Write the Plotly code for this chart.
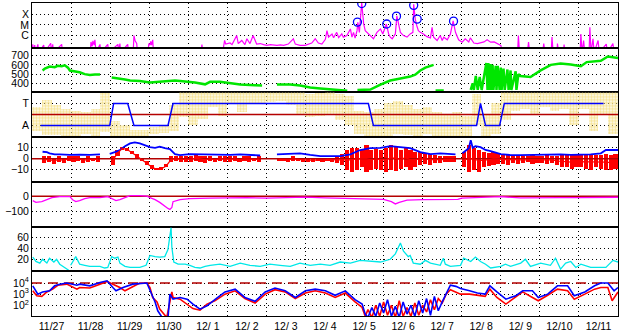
import pandas as pd
import plotly.graph_objects as go
from plotly.subplots import make_subplots

# ---------------- data (time = days since 11/27 00:00) ----------------
START = pd.Timestamp("2023-11-27")
N_DAYS = 15
day_labels = ["11/27", "11/28", "11/29", "11/30", "12/ 1", "12/ 2", "12/ 3", "12/ 4",
              "12/ 5", "12/ 6", "12/ 7", "12/ 8", "12/ 9", "12/10", "12/11"]

# GOES X-ray flux, log10(W/m2)
xray_day = [0.0, 0.02, 0.04, 0.07, 0.09, 0.15, 0.17, 0.30, 0.32, 0.48, 0.50, 0.53, 0.55, 0.76, 0.78,
            1.49, 1.51, 1.54, 1.56, 1.59, 1.61, 1.64, 1.74, 1.76, 1.94, 1.96, 2.20, 2.22, 2.25, 2.27,
            2.45, 2.47, 2.59, 2.61, 2.64, 2.68, 2.70, 2.97, 2.99, 3.02, 3.04, 3.06, 3.09, 3.11,
            4.33, 4.35, 4.37, 4.88, 4.90, 4.93, 4.96, 5.07, 5.12, 5.24, 5.28, 5.37, 5.45, 5.50, 5.58,
            5.63, 5.66, 5.75, 5.84, 5.93, 6.01, 6.10, 6.27, 6.36, 6.44, 6.56, 6.69, 6.74, 6.86, 6.99,
            7.07, 7.16, 7.25, 7.33, 7.42, 7.51, 7.55, 7.59, 7.68, 7.72, 7.80, 7.85, 7.93, 7.97, 8.06,
            8.15, 8.19, 8.23, 8.27, 8.32, 8.34, 8.38, 8.44, 8.49, 8.53, 8.62, 8.70, 8.74, 8.83, 8.92,
            8.98, 9.04, 9.07, 9.13, 9.17, 9.22, 9.30, 9.34, 9.38, 9.43, 9.51, 9.60, 9.68, 9.75, 9.77,
            9.81, 9.85, 9.89, 9.94, 10.02, 10.11, 10.20, 10.24, 10.28, 10.37, 10.45, 10.50, 10.54,
            10.63, 10.71, 10.78, 10.84, 10.92, 11.01, 11.09, 11.18, 11.22, 11.31, 11.40, 11.57, 11.65,
            11.74, 11.83, 11.91, 12.0, 12.05, 12.43, 12.45, 12.48, 12.68, 12.71, 12.74, 13.07, 13.10,
            13.13, 13.29, 13.31, 13.34, 13.44, 13.45, 13.48, 13.60, 13.62, 13.64, 14.03, 14.05, 14.08,
            14.12, 14.15, 14.26, 14.28, 14.31, 14.36, 14.39, 14.49, 14.52, 14.70, 14.73, 14.87, 14.90,
            15.0]
xray_log = [-7.6, -6.83, -7.6, -6.9, -7.6, -6.83, -7.6, -6.9, -7.6, -6.72, -7.6, -6.83, -7.6, -6.83, -7.6,
            -7.6, -6.6, -7.0, -6.5, -6.9, -6.4, -7.6, -6.83, -7.6, -6.83, -7.6, -6.83, -7.6, -6.75, -7.6,
            -6.83, -7.6, -7.6, -6.0, -6.5, -6.75, -7.6, -7.6, -6.75, -6.9, -6.55, -6.9, -6.4, -7.6,
            -7.6, -6.85, -7.6, -7.6, -6.92, -6.46, -6.8, -6.7, -6.85, -6.0, -6.75, -6.46, -6.85, -6.3, -6.75,
            -6.15, -6.0, -6.8, -6.75, -6.85, -6.92, -6.85, -6.92, -6.88, -6.92, -6.8, -6.3, -6.8, -6.92, -6.92,
            -6.8, -6.7, -6.3, -6.7, -6.8, -6.35, -5.54, -6.15, -5.85, -6.2, -5.7, -6.2, -5.85, -6.15, -6.0,
            -5.38, -6.15, -5.7, -6.25, -5.54, -4.77, -5.7, -2.93, -4.92, -5.54, -5.85, -6.15, -6.3, -5.7, -5.38,
            -5.85, -5.08, -4.92, -5.85, -6.15, -6.3, -5.85, -4.16, -4.92, -5.7, -6.0, -6.15, -5.85, -5.7, -3.08,
            -4.46, -5.08, -5.54, -5.7, -5.85, -6.1, -6.22, -5.23, -6.15, -6.46, -6.0, -6.46, -6.15,
            -6.4, -5.85, -4.62, -5.7, -6.4, -6.62, -6.3, -6.6, -6.22, -6.7, -6.75, -6.6, -6.4,
            -6.62, -6.6, -6.75, -6.92, -7.6, -7.6, -6.0, -7.6, -7.6, -6.62, -7.6, -7.6, -6.75,
            -7.6, -7.6, -6.15, -7.6, -7.6, -6.75, -7.6, -7.6, -6.85, -7.6, -7.6, -5.85, -7.6,
            -6.46, -7.6, -7.6, -5.23, -7.6, -6.3, -7.6, -6.46, -7.6, -6.8, -7.6, -6.75, -7.6,
            -7.6]
flare_day = [8.33, 8.44, 9.08, 9.33, 9.77, 9.86, 10.79]
flare_log = [-4.74, -3.0, -4.92, -4.18, -3.17, -4.46, -4.65]
xray_ticks = [1e-6, 1e-5, 1e-4]
xray_ticktext = ["C", "M", "X"]

# Solar wind speed (km/s)
sw_day = [0.27, 0.33, 0.45, 0.58, 0.66, 0.76, 0.84, 0.92, 0.97, 1.09, 1.22, 1.35, 1.48, 1.61, 1.74, 1.85,
          2.04, 2.25, 2.38, 2.51, 2.76, 3.02, 3.27, 3.66, 3.92, 4.17, 4.43, 4.56, 4.81, 5.07, 5.33, 5.71,
          5.89, 6.0, 6.27, 6.61, 6.86, 7.12, 7.38, 7.63, 7.89, 8.07, 8.2, 8.33, 8.66, 8.92, 9.17, 9.43,
          9.68, 9.81, 9.94, 10.07, 10.20, 10.28, 10.30, 10.33, 10.54, 10.6,
          11.23, 11.28, 11.31, 11.36, 11.41, 11.46, 11.51, 11.63, 11.66, 11.68, 11.71, 11.74, 11.76,
          11.79, 11.81, 11.87, 11.89, 11.92, 11.97, 12.0, 12.02, 12.07, 12.10, 12.17, 12.20, 12.25,
          12.27, 12.38, 12.40, 12.45, 12.5, 12.76, 13.02, 13.28, 13.53, 13.79, 14.05, 14.2, 14.56,
          14.74, 15.0]
sw_speed = [539, 560, 582, 575, 590, 585, 595, 570, 539, 530, 520, 500, 490, 497, 495, None,
            463, 453, 442, 431, 425, 410, 420, 431, 420, 410, 390, 418, 418, 400, 388, 380,
            377, None, 388, 388, 377, 356, 345, 334, 324, 320, None, 330, 334, 388, 431, 453,
            474, 495, 539, 571, 592, 600, None, 325, 325, None,
            330, 400, 330, 480, 330, 470, 330, 620, 330, 620, 330, 610, 330,
            600, 330, 590, 330, 590, 330, 570, 330, 560, 330, 550, 330, 540,
            330, 530, 330, 500, 480, 470, 540, 600, 615, 605, 585, 630, 645,
            690, 675]
sw_ticks = [400, 500, 600, 700]

# IMF sector polarity: +1 = T (toward), -1 = A (away)
sector_day = [0.22, 1.99, 2.09, 2.45, 2.61, 3.48, 3.61, 8.61, 8.74, 11.38, 11.48, 11.61, 11.97, 12.09, 14.63]
sector_val = [-1, -1, 1, 1, -1, -1, 1, 1, -1, -1, 1, -1, -1, 1, 1]
# IMF longitude scatter, 6-hour bins: low / high (same scale as sector)
phi_lo = [-1.5, -1.9, -1.9, -2.0, -2.0, -1.8, -2.0, -1.6, -2.0, -2.0, -2.0, -2.0,
          -1.8, -1.7, -1.5, -0.3, -1.0, -0.4, 0.6, -0.2, 0.9, 0.2, 1.0, 0.9,
          1.1, 1.2, 0.8, 0.0, -0.3, -0.2, 0.0, -0.5, -1.0, -1.8, -2.0, -2.0,
          -2.0, -1.8, -1.9, -2.0, -1.8, -2.0, -2.0, -2.0, -2.0, -1.0, -2.0, -1.8,
          -0.5, 0.3, 0.5, 0.0, 0.6, 0.3, 0.5, -1.0, 0.5, -1.5, 0.0, -1.8]
phi_hi = [0.6, 1.3, 0.8, 0.5, 0.3, 0.2, 0.5, 1.9, -0.6, -1.0, -1.4, -1.4,
          -1.2, -1.1, 0.8, 2.0, 2.0, 2.0, 2.0, 2.0, 2.0, 2.0, 2.0, 2.0,
          2.0, 2.0, 2.0, 2.0, 1.8, 1.9, 2.0, 1.8, 1.6, 0.3, 0.2, 0.5,
          1.0, 1.2, 0.8, 0.5, 0.6, 0.2, 0.0, 0.2, -0.2, 1.8, 0.0, 1.0,
          2.0, 2.0, 2.0, 2.0, 2.0, 2.0, 2.0, 2.0, 2.0, 2.0, 2.0, 2.0]
sector_ticks = [-1, 1]
sector_ticktext = ["A", "T"]

# IMF Bt (nT)
bt_day = [0.27, 0.38, 0.45, 0.58, 0.71, 0.97, 1.22, 1.48, 1.74, 1.85, 1.99, 2.04, 2.12, 2.25, 2.38, 2.51,
          2.63, 2.76, 2.89, 3.02, 3.15, 3.27, 3.40, 3.53, 3.66, 3.79, 4.04, 4.30, 4.56, 4.81, 5.07, 5.33,
          5.58, 5.84, 6.0, 6.27, 6.61, 6.86, 7.12, 7.38, 7.63, 7.89, 8.15, 8.40, 8.66, 8.92, 9.17, 9.43,
          9.68, 9.94, 10.20, 10.45, 10.84, 10.9, 11.02, 11.18, 11.23, 11.28, 11.35, 11.48, 11.61, 11.74,
          12.0, 12.25, 12.5, 12.76, 13.02, 13.28, 13.53, 13.79, 14.05, 14.3, 14.56, 14.69, 15.0]
bt_val = [6.4, 6, 5, 4, 4, 3.5, 3.8, 3.5, 4, None, 4.5, 5, 6, 8, 11.5, 14,
          15, 14, 12.5, 10.6, 10, 11, 9.7, 8.8, 4.3, 3.4, 4.3, 4, 4.3, 4, 3.5, 4,
          3.5, 3, None, 4, 4.5, 5, 3.5, 2.5, 2.5, 2.5, 4, 8, 9.7, 10, 11.5, 10.6,
          9.7, 6, 4.3, 5, 4, None, 5, 9.7, 17, 10, 11.5, 10.6, 8, 7,
          4.3, 3.4, 3.4, 3.5, 4, 3.5, 4, 3.5, 3.5, 4, 5, 8, 8]
# IMF Bz (nT), 3-hour bins: low / high
bz_lo = [None, None, -4, -3, -5, -3, -4, -2,
         -3, -2, -4, -3, -2, -3, None, None,
         -6, 2, 8, 7, 4, 1, -2, -6,
         -9, -10, -10, -8, -3, -2, -3, -3,
         -3, -2, -3, -4, -2, -3, -2, -3,
         -3, -2, -3, -2, -3, -2, -3, None,
         None, None, -2, -2, -3, -2, -2, -3,
         -3, -3, -2, -3, -2, -3, -4, -6,
         -10, -12, -10, -8, -12, -10, -9, -10,
         -12, -10, -11, -9, -8, -10, -8, -6,
         -5, -6, -4, -4, -3, -3, -3, None,
         -8, -12, -10, -12, -8, -7, -6, -5,
         -5, -6, -4, -5, -4, -3, -5, -4,
         -4, -5, -4, -6, -8, -8, -9, -8,
         -8, -9, -10, -8, -9, -10, -10, -9]
bz_hi = [None, None, 2, 2, 1, 2, 1, 2,
         2, 2, 1, 2, 1, 2, None, None,
         2, 8, 11, 10, 7, 4, 1, -2,
         -6, -9, -8, -5, 2, 2, 2, 2,
         2, 3, 2, 2, 2, 1, 2, 2,
         2, 2, 1, 2, 2, 1, 2, None,
         None, None, 1, 1, 1, 2, 1, 1,
         0, 1, 0, 0, 1, 1, 2, 4,
         8, 10, 10, 8, 12, 8, 9, 8,
         10, 12, 11, 8, 10, 8, 6, 6,
         5, 4, 3, 2, 2, 2, 2, None,
         6, 12, 10, 8, 6, 5, 6, 5,
         4, 4, 3, 3, 2, 2, 3, 2,
         2, 3, 2, 2, 3, 3, 3, 3,
         3, 3, 4, 3, 3, 4, 3, 4]
bz_ticks = [-10, 0, 10]

# Dst (nT)
dst_day = [0.02, 0.10, 0.25, 0.40, 0.51, 0.71, 0.97, 1.04, 1.12, 1.22, 1.35, 1.48, 1.74, 1.94, 2.04, 2.15,
           2.25, 2.38, 2.51, 2.76, 2.94, 3.02, 3.15, 3.27, 3.40, 3.48, 3.53, 3.58, 3.61, 3.79, 4.04, 4.30,
           4.56, 5.0, 5.5, 6.0, 6.5, 7.0, 7.5, 8.0, 8.5, 9.0, 9.2, 9.3, 9.4, 9.6, 10.0, 10.5, 10.9, 11.0,
           11.5, 11.8, 12.0, 12.5, 13.0, 13.5, 14.0, 14.5, 15.0]
dst_val = [-28, -40, -35, -22, -9, -2, -2, -22, -35, -28, -15, -9, -9, -2, -15, -28,
           -22, -9, 5, 5, 2, -9, -22, -40, -67, -80, -87, -74, -35, -22, -15, -15,
           -12, -10, -8, -12, -8, -5, -10, -12, -15, -20, -35, -50, -40, -25, -22, -20, -20, -12,
           -8, -5, -2, -10, -12, -9, -9, -9, -6]
dst_ticks = [-100, 0]

# Cyan index
cy_day = [0.02, 0.10, 0.20, 0.27, 0.38, 0.45, 0.56, 0.63, 0.71, 0.79, 0.86, 0.94, 0.96, 0.99, 1.04, 1.12,
          1.17, 1.22, 1.35, 1.48, 1.74, 1.86, 1.94, 1.99, 2.04, 2.12, 2.20, 2.25, 2.38, 2.51, 2.76, 2.92,
          3.02, 3.15, 3.27, 3.40, 3.48, 3.56, 3.58, 3.63, 3.74, 3.92, 4.04, 4.17, 4.30, 4.43, 4.56, 4.81,
          5.07, 5.33, 5.58, 5.84, 6.09, 6.35, 6.61, 6.86, 7.12, 7.38, 7.63, 7.89, 8.15, 8.40, 8.66, 8.92,
          9.17, 9.30, 9.43, 9.51, 9.63, 9.68, 9.76, 9.94, 10.07, 10.20, 10.45, 10.53, 10.58, 10.71, 10.97,
          11.05, 11.23, 11.35, 11.48, 11.61, 11.74, 12.0, 12.12, 12.25, 12.51, 12.63, 12.76, 13.02, 13.27,
          13.40, 13.53, 13.66, 13.79, 13.92, 14.05, 14.30, 14.56, 14.69, 14.87, 15.0]
cy_val = [24, 16, 13, 20, 13, 22, 15, 20, 11, 7, 4, 0, None, 9, 16, 25,
          18, 11, 9, 7, 7, 4, 5, 15, 25, 22, 24, 13, 7, 5, 5, 9,
          27, 25, 24, 25, 38, 78, 42, 15, 11, 11, 9, 5, 4, 7, 9, 11,
          7, 13, 9, 7, 11, 9, 7, 13, 9, 11, 9, 15, 13, 18, 16, 15,
          20, 30, 50, 35, 25, 27, 13, 11, 18, 13, 9, 22, 11, 7, 9,
          22, 16, 24, 16, 11, 4, 7, 11, 7, 13, 20, 7, 13, 9,
          22, 2, 13, 16, 5, 11, 5, 5, 5, 18, 15]
cy_ticks = [20, 40, 60]

# Electron flux, log10
fb_day = [0.02, 0.15, 0.27, 0.45, 0.58, 0.71, 0.89, 1.15, 1.22, 1.48, 1.74, 1.92, 2.07, 2.15, 2.33, 2.58,
          2.94, 3.07, 3.15, 3.22, 3.35, 3.48, 3.53, 3.61, 3.79, 3.97, 4.12, 4.30, 4.48, 4.68, 4.94, 5.2,
          5.45, 5.71, 5.97, 6.22, 6.48, 6.74, 7.0, 7.25, 7.51, 7.76, 8.02, 8.27, 8.45, 8.53, 8.6, 8.7,
          8.8, 8.9, 9.0, 9.1, 9.2, 9.3, 9.4, 9.5, 9.6, 9.7, 9.8, 9.9, 10.0, 10.1, 10.2, 10.3, 10.4,
          10.5, 10.6, 10.71, 10.85, 10.97, 11.2, 11.4, 11.6, 11.72, 11.9, 12.13, 12.38, 12.56, 12.81,
          12.96, 13.2, 13.45, 13.71, 13.88, 14.15, 14.4, 14.56, 14.74, 14.9, 15.0]
fb_log = [3.75, 3.0, 3.2, 3.3, 3.75, 3.9, 4.0, 3.8, 3.9, 3.75, 4.05, 4.2, 3.6, 3.3, 3.6, 3.9,
          4.0, 3.0, 2.3, 1.5, 0.8, 0.8, 3.0, 2.55, 2.7, 2.55, 2.1, 1.65, 1.95, 2.5, 3.2, 3.45,
          2.7, 2.35, 3.2, 3.55, 3.3, 2.7, 3.3, 3.45, 3.3, 2.9, 3.3, 2.5, 2.1, 1.2, 0.9, 1.8,
          1.0, 2.2, 1.3, 2.5, 1.0, 1.9, 0.9, 2.3, 1.2, 2.0, 1.0, 2.4, 1.3, 2.6, 1.1, 2.8, 1.5,
          2.3, 3.0, 3.8, 3.7, 3.5, 3.3, 3.1, 3.0, 3.75, 3.2, 2.55, 2.85, 3.3, 3.3,
          2.7, 3.0, 3.75, 3.75, 2.85, 3.2, 3.75, 4.0, 4.0, 3.3, 3.6]
fr_day = [0.02, 0.12, 0.25, 0.38, 0.53, 0.66, 0.89, 1.15, 1.22, 1.48, 1.74, 1.92, 2.07, 2.25, 2.38, 2.51,
          2.76, 2.94, 3.02, 3.09, 3.20, 3.27, 3.35, 3.45, 3.58, 3.61, 3.79, 3.97, 4.12, 4.30, 4.48, 4.68,
          4.94, 5.2, 5.45, 5.71, 5.97, 6.22, 6.48, 6.74, 7.0, 7.25, 7.51, 7.76, 8.02, 8.27, 8.45, 8.53,
          8.6, 8.7, 8.8, 8.9, 9.0, 9.1, 9.2, 9.3, 9.4, 9.5, 9.6, 9.7, 9.8, 9.9, 10.0, 10.1, 10.2,
          10.3, 10.4, 10.5, 10.6, 10.71, 10.85, 10.97, 11.2, 11.4, 11.6, 11.72, 11.9, 12.13, 12.38,
          12.56, 12.81, 12.96, 13.2, 13.45, 13.71, 13.88, 14.15, 14.4, 14.56, 14.74, 14.85, 14.95, 15.0]
fr_log = [3.3, 2.85, 2.8, 3.2, 3.45, 3.8, 3.9, 3.45, 3.6, 3.55, 3.9, 4.15, 3.9, 3.6, 3.3, 3.55,
          4.0, 4.0, 3.6, 2.7, 2.3, 1.65, 1.35, 0.9, 3.2, 2.7, 2.55, 2.1, 1.7, 1.55, 2.1, 2.4,
          3.0, 3.3, 2.6, 2.2, 3.0, 3.4, 3.2, 2.6, 3.1, 3.3, 3.1, 2.7, 3.1, 2.3, 1.8, 1.0,
          1.6, 0.9, 2.0, 1.0, 2.3, 1.1, 2.0, 0.9, 2.4, 1.0, 1.8, 1.0, 2.2, 1.1, 2.0, 1.4, 2.5,
          1.6, 2.6, 2.2, 3.0, 3.4, 3.2, 3.0, 3.0, 2.9, 2.8, 3.45, 2.7, 2.1, 2.7,
          3.2, 2.7, 2.4, 2.9, 3.45, 3.3, 2.55, 3.0, 3.45, 3.6, 3.6, 2.4, 3.0, 3.2]
flux_ticks = [1e2, 1e3, 1e4]
flux_ticktext = ["10<sup>2</sup>", "10<sup>3</sup>", "10<sup>4</sup>"]
FLUX_ALERT = 1e4

# ---------------- helpers ----------------
def to_time(days):
    return [START + pd.Timedelta(days=d) for d in days]

def pow10(vals):
    return [None if v is None else 10 ** v for v in vals]

DAY_MS = 86400000
midnights = to_time(range(0, N_DAYS + 1))
noons = to_time([d + 0.5 for d in range(N_DAYS)])
t_end = START + pd.Timedelta(days=N_DAYS)

MAGENTA = "#ff00ff"
GREEN = "#00e600"
BLUE = "#0000ff"
RED = "#ff0000"
DARKRED = "#b40000"
CYAN = "#00e8e8"
YELLOW = "rgb(246,226,140)"

fig = make_subplots(rows=7, cols=1, shared_xaxes=True, vertical_spacing=0)

# Row 1: X-ray
fig.add_trace(go.Scatter(x=to_time(xray_day), y=pow10(xray_log), mode="lines",
                         line=dict(color=MAGENTA, width=1.2)), row=1, col=1)
fig.add_trace(go.Scatter(x=to_time(flare_day), y=pow10(flare_log), mode="markers",
                         marker=dict(symbol="circle-open", size=8, color=BLUE,
                                     line=dict(width=1.3, color=BLUE))), row=1, col=1)

# Row 2: solar wind speed
fig.add_trace(go.Scatter(x=to_time(sw_day), y=sw_speed, mode="lines",
                         line=dict(color=GREEN, width=2.5)), row=2, col=1)

# Row 3: sector + IMF longitude scatter
phi_t = to_time([i * 0.25 + 0.125 for i in range(len(phi_lo))])
fig.add_trace(go.Bar(x=phi_t, base=phi_lo, y=[h - l for h, l in zip(phi_hi, phi_lo)],
                     width=0.25 * DAY_MS,
                     marker=dict(color="rgba(0,0,0,0)", line=dict(width=0),
                                 pattern=dict(shape=".", fgcolor=YELLOW, bgcolor="rgba(0,0,0,0)",
                                              size=3, solidity=0.6, fillmode="replace"))),
              row=3, col=1)
fig.add_trace(go.Scatter(x=[START, t_end], y=[0, 0], mode="lines",
                         line=dict(color=DARKRED, width=1.5)), row=3, col=1)
fig.add_trace(go.Scatter(x=to_time(sector_day), y=sector_val, mode="lines",
                         line=dict(color=BLUE, width=1.5)), row=3, col=1)

# Row 4: Bz / Bt
bz_t = to_time([k * 0.125 + 0.0625 for k in range(len(bz_lo))])
bz_h = [None if lo is None else max(hi - lo, 1.2) for lo, hi in zip(bz_lo, bz_hi)]
bz_mid = [None if lo is None else (lo + hi) / 2 for lo, hi in zip(bz_lo, bz_hi)]
fig.add_trace(go.Scatter(x=[START, t_end], y=[0, 0], mode="lines",
                         line=dict(color=DARKRED, width=1.5)), row=4, col=1)
fig.add_trace(go.Scatter(x=to_time(bt_day), y=bt_val, mode="lines",
                         line=dict(color=BLUE, width=1.8)), row=4, col=1)
fig.add_trace(go.Bar(x=bz_t, base=bz_lo, y=bz_h, width=0.125 * 0.85 * DAY_MS,
                     marker=dict(color=RED, line=dict(width=0))), row=4, col=1)
fig.add_trace(go.Scatter(x=bz_t, y=bz_mid, mode="lines",
                         line=dict(color=RED, width=1.2)), row=4, col=1)

# Row 5: Dst
fig.add_trace(go.Scatter(x=[START, t_end], y=[0, 0], mode="lines",
                         line=dict(color=DARKRED, width=1.5)), row=5, col=1)
fig.add_trace(go.Scatter(x=to_time(dst_day), y=dst_val, mode="lines",
                         line=dict(color=MAGENTA, width=1.3)), row=5, col=1)

# Row 6: cyan
fig.add_trace(go.Scatter(x=to_time(cy_day), y=cy_val, mode="lines",
                         line=dict(color=CYAN, width=1.3)), row=6, col=1)

# Row 7: electron flux
fig.add_trace(go.Scatter(x=[START, t_end], y=[FLUX_ALERT, FLUX_ALERT], mode="lines",
                         line=dict(color=DARKRED, width=1.5, dash="10px,6px")), row=7, col=1)
fig.add_trace(go.Scatter(x=to_time(fr_day), y=pow10(fr_log), mode="lines",
                         line=dict(color=RED, width=1.6)), row=7, col=1)
fig.add_trace(go.Scatter(x=to_time(fb_day), y=pow10(fb_log), mode="lines",
                         line=dict(color=BLUE, width=1.6)), row=7, col=1)

# ---------------- axes ----------------
DOT = "1px,3px"
for r in range(1, 8):
    fig.update_xaxes(row=r, col=1, type="date", range=[START, t_end],
                     showline=True, mirror=True, linecolor="black", linewidth=1,
                     showgrid=False, zeroline=False, ticks="",
                     tickmode="array", tickvals=noons, ticktext=day_labels,
                     showticklabels=(r == 7),
                     minor=dict(tickmode="array", tickvals=midnights, showgrid=True,
                                gridcolor="black", gridwidth=1, griddash=DOT, ticks=""))

yax_common = dict(showline=True, mirror=True, linecolor="black", linewidth=1,
                  showgrid=True, gridcolor="black", gridwidth=1, griddash=DOT,
                  zeroline=False, ticks="", tickmode="array")
fig.update_yaxes(row=1, col=1, type="log", range=[-7.14, -2.95], tickvals=xray_ticks,
                 ticktext=xray_ticktext, **yax_common)
fig.update_yaxes(row=2, col=1, range=[303, 785], tickvals=sw_ticks, **yax_common)
fig.update_yaxes(row=3, col=1, range=[-2.05, 2.0], tickvals=sector_ticks,
                 ticktext=sector_ticktext, **yax_common)
fig.update_yaxes(row=4, col=1, range=[-21, 19.7], tickvals=bz_ticks, **yax_common)
fig.update_yaxes(row=5, col=1, range=[-200, 96], tickvals=dst_ticks, **yax_common)
fig.update_yaxes(row=6, col=1, range=[-2, 80], tickvals=cy_ticks, **yax_common)
fig.update_yaxes(row=7, col=1, type="log", range=[1.03, 5.06], tickvals=flux_ticks,
                 ticktext=flux_ticktext, **yax_common)

fig.update_layout(width=628, height=334, margin=dict(l=32, r=10, t=2, b=17),
                  paper_bgcolor="white", plot_bgcolor="white", showlegend=False,
                  barmode="overlay", bargap=0,
                  font=dict(family="Liberation Sans, Arial, sans-serif", size=10.5, color="black"))

fig.write_html("out.html")
